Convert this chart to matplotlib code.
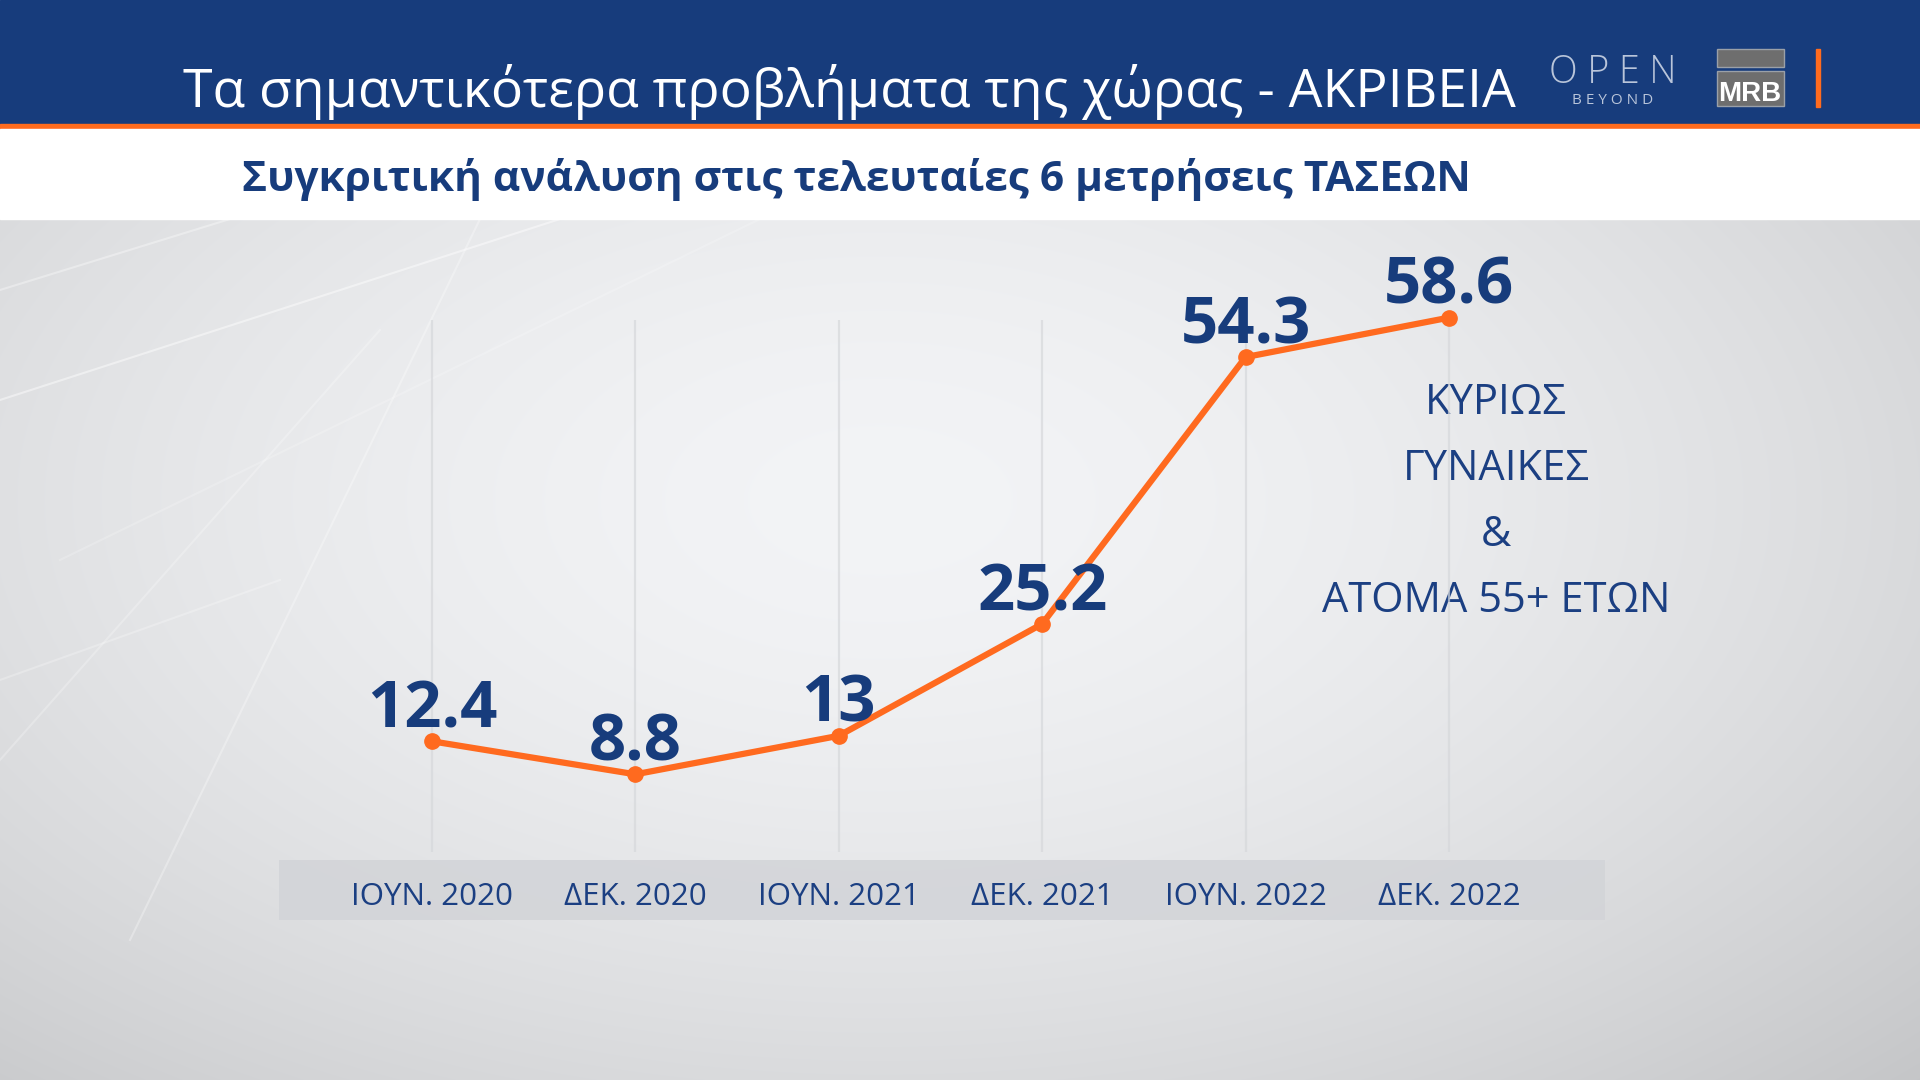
import numpy as np
import matplotlib.pyplot as plt
from matplotlib.patches import Rectangle
from matplotlib.transforms import blended_transform_factory

# data
periods = ["ΙΟΥΝ. 2020", "ΔΕΚ. 2020", "ΙΟΥΝ. 2021", "ΔΕΚ. 2021", "ΙΟΥΝ. 2022", "ΔΕΚ. 2022"]
values = [12.4, 8.8, 13, 25.2, 54.3, 58.6]
value_labels = ["12.4", "8.8", "13", "25.2", "54.3", "58.6"]
note_lines = ["ΚΥΡΙΩΣ", "ΓΥΝΑΙΚΕΣ", "&", "ΑΤΟΜΑ 55+ ΕΤΩΝ"]

title = "Τα σημαντικότερα προβλήματα της χώρας - ΑΚΡΙΒΕΙΑ"
subtitle = "Συγκριτική ανάλυση στις τελευταίες 6 μετρήσεις ΤΑΣΕΩΝ"

BLUE = "#173c7c"
TEXT_BLUE = "#1b3f82"
ORANGE = "#ff6a1f"
FONT = ["Open Sans", "DejaVu Sans"]

W, H = 1920, 1080
fig = plt.figure(figsize=(19.2, 10.8), dpi=100)

# background layer in pixel coordinates
bg = fig.add_axes([0, 0, 1, 1])
bg.set_xlim(0, W)
bg.set_ylim(H, 0)
bg.axis("off")

yy, xx = np.mgrid[219:H, 0:W]
d = np.sqrt(((xx - 880) / 1150.0) ** 2 + ((yy - 500) / 650.0) ** 2)
val = 0.96 - 0.12 * np.clip(d, 0, 1.4) ** 1.7
img = np.dstack([val - 0.008, val - 0.004, val + 0.004])
img = np.clip(img, 0, 1)
bg.imshow(img, extent=[0, W, H, 219], aspect="auto", zorder=0)

# faint diagonal streaks on the left
for (x1, y1, x2, y2, a) in [(0, 400, 560, 219, 0.45), (0, 290, 230, 219, 0.35),
                            (130, 940, 480, 219, 0.3), (0, 760, 380, 330, 0.25),
                            (0, 680, 280, 580, 0.25), (60, 560, 760, 219, 0.2)]:
    bg.plot([x1, x2], [y1, y2], color="white", lw=1.5, alpha=a, zorder=1)

# header
bg.add_patch(Rectangle((0, 0), W, 124, color=BLUE, zorder=2))
bg.add_patch(Rectangle((0, 124), W, 5, color="#ff6b1e", zorder=2))
bg.add_patch(Rectangle((0, 129), W, 90, color="white", zorder=2))

bg.text(849, 107, title, ha="center", va="baseline", fontsize=38.5,
        color="white", family=FONT, zorder=3)
bg.text(856, 191, subtitle, ha="center", va="baseline", fontsize=30.5,
        color=BLUE, family=FONT, fontweight="bold", zorder=3)

# logos
bg.text(1613, 83, "O P E N", ha="center", va="baseline", fontsize=27,
        color="#b9c5da", family=FONT, fontweight="light", zorder=3)
bg.text(1613, 104, "B E Y O N D", ha="center", va="baseline", fontsize=11,
        color="#b9c5da", family=FONT, zorder=3)
bg.add_patch(Rectangle((1717, 49), 67, 18, facecolor="#6e6e6e", edgecolor="#9aa0a8", lw=1, zorder=3))
bg.add_patch(Rectangle((1717, 71), 67, 35, facecolor="#6e6e6e", edgecolor="#9aa0a8", lw=1, zorder=3))
bg.text(1750, 101, "MRB", ha="center", va="baseline", fontsize=20, color="white",
        family=["Liberation Sans", "DejaVu Sans"], fontweight="bold", zorder=4)
bg.add_patch(Rectangle((1816, 49), 4, 58, color="#ff6b1e", zorder=3))

# category band
bg.add_patch(Rectangle((279, 860), 1326, 60, facecolor="#d2d4d8", alpha=0.85,
                       edgecolor="none", zorder=1))

# chart layer: data mapped onto pixel layout
x0px, dxpx, y0px, dypx = 432, 203.4, 855, 9.17
ax = fig.add_axes([0, 0, 1, 1])
ax.set_xlim(-x0px / dxpx, (W - x0px) / dxpx)
ax.set_ylim((y0px - H) / dypx, y0px / dypx)
ax.patch.set_alpha(0)
ax.axis("off")

xs = np.arange(len(values))
ax.vlines(xs, 0.3, 58.3, color="#d6d8db", lw=1.6, alpha=0.7, zorder=2)
ax.plot(xs, values, color=ORANGE, lw=4.5, marker="o", markersize=11,
        solid_capstyle="round", zorder=4)

for x, v, lab in zip(xs, values, value_labels):
    ax.annotate(lab, (x, v), xytext=(0, 10), textcoords="offset points",
                ha="center", va="baseline", fontsize=47, fontweight="bold",
                color=BLUE, family=FONT, zorder=5)

tr = blended_transform_factory(ax.transData, bg.transData)
for x, lab in zip(xs, periods):
    ax.text(x, 905, lab, transform=tr, ha="center", va="baseline",
            fontsize=22.5, color=TEXT_BLUE, family=FONT, zorder=5)

for i, line in enumerate(note_lines):
    bg.text(1496, 414 + 66 * i, line, ha="center", va="baseline", fontsize=30,
            color=TEXT_BLUE, family=FONT, zorder=5)

fig.savefig("out.png", dpi=100)
